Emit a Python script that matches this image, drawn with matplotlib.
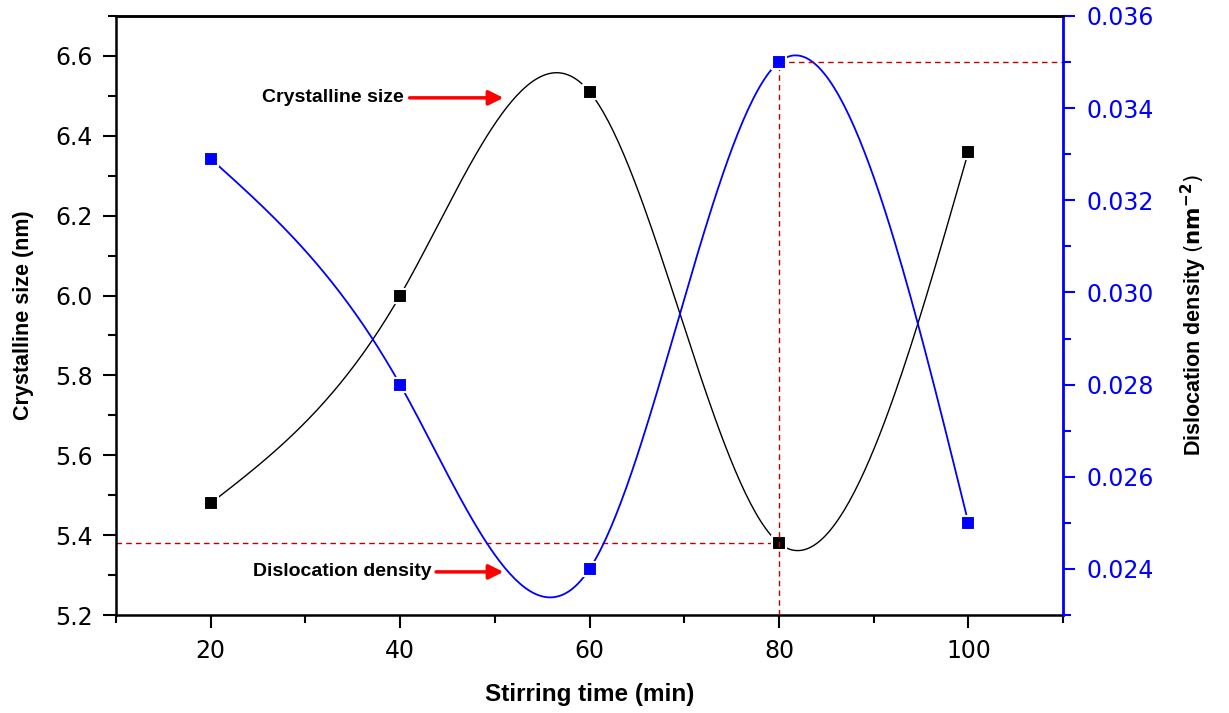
import numpy as np
import matplotlib
matplotlib.use("Agg")
from matplotlib import pyplot as plt
from matplotlib.ticker import MultipleLocator, FormatStrFormatter

# data
stirring_time = [20, 40, 60, 80, 100]
crystalline_size = [5.48, 6.00, 6.51, 5.38, 6.36]
dislocation_density = [0.0329, 0.0280, 0.0240, 0.0350, 0.0250]


def natural_spline(x, y, n=300):
    # natural cubic spline through the points (like Origin's spline connector)
    x = np.asarray(x, float)
    y = np.asarray(y, float)
    k = len(x)
    h = np.diff(x)
    A = np.zeros((k, k))
    b = np.zeros(k)
    A[0, 0] = A[-1, -1] = 1
    for i in range(1, k - 1):
        A[i, i - 1] = h[i - 1]
        A[i, i] = 2 * (h[i - 1] + h[i])
        A[i, i + 1] = h[i]
        b[i] = 6 * ((y[i + 1] - y[i]) / h[i] - (y[i] - y[i - 1]) / h[i - 1])
    M = np.linalg.solve(A, b)
    xs = np.linspace(x[0], x[-1], n)
    idx = np.clip(np.searchsorted(x, xs) - 1, 0, k - 2)
    x0, x1 = x[idx], x[idx + 1]
    hh = x1 - x0
    ys = (M[idx] * (x1 - xs) ** 3 / (6 * hh) + M[idx + 1] * (xs - x0) ** 3 / (6 * hh)
          + (y[idx] / hh - M[idx] * hh / 6) * (x1 - xs)
          + (y[idx + 1] / hh - M[idx + 1] * hh / 6) * (xs - x0))
    return xs, ys


plt.rcParams['font.family'] = ['Liberation Sans', 'DejaVu Sans']
tick_font = ['DejaVu Sans']

fig = plt.figure(figsize=(12.29, 7.13), dpi=100)
ax = fig.add_axes([0.0944, 0.1374, 0.7706, 0.8402])
ax2 = ax.twinx()

# crystalline size (left axis)
xs, ys = natural_spline(stirring_time, crystalline_size)
ax.plot(xs, ys, color='black', lw=1.0, zorder=2)
ax.plot(stirring_time, crystalline_size, 's', color='black', ms=10,
        mec='white', mew=1.5, zorder=3)

# dislocation density (right axis)
xs, ys = natural_spline(stirring_time, dislocation_density)
ax2.plot(xs, ys, color='blue', lw=1.3, zorder=2)
ax2.plot(stirring_time, dislocation_density, 's', color='blue', ms=10,
         mec='white', mew=1.5, zorder=3)

# red dashed guide lines
ax.plot([10, 80], [5.38, 5.38], color='#c00000', lw=1.0, dashes=(4, 3))
ax2.plot([80, 80], [0.023, 0.035], color='#c00000', lw=1.0, dashes=(4, 3))
ax2.plot([80, 110], [0.035, 0.035], color='#c00000', lw=1.0, dashes=(4, 3))

# annotations
ax.annotate('', xy=(51.2, 6.495), xytext=(40.7, 6.495),
            arrowprops=dict(arrowstyle='-|>', color='red', lw=2.5, mutation_scale=22))
ax.text(40.4, 6.495, 'Crystalline size', ha='right', va='center',
        fontsize=14, fontweight='bold')
ax.annotate('', xy=(51.2, 5.308), xytext=(43.5, 5.308),
            arrowprops=dict(arrowstyle='-|>', color='red', lw=2.5, mutation_scale=22))
ax.text(43.3, 5.308, 'Dislocation density', ha='right', va='center',
        fontsize=14, fontweight='bold')

# axes limits and ticks
ax.set_xlim(10, 110)
ax.set_ylim(5.2, 6.7)
ax2.set_ylim(0.023, 0.036)

ax.xaxis.set_major_locator(MultipleLocator(20))
ax.xaxis.set_minor_locator(MultipleLocator(10))
ax.yaxis.set_major_locator(MultipleLocator(0.2))
ax.yaxis.set_minor_locator(MultipleLocator(0.1))
ax.yaxis.set_major_formatter(FormatStrFormatter('%.1f'))
ax2.yaxis.set_major_locator(MultipleLocator(0.002))
ax2.yaxis.set_minor_locator(MultipleLocator(0.001))
ax2.yaxis.set_major_formatter(FormatStrFormatter('%.3f'))

ax.tick_params(axis='both', which='both', direction='out', width=1.5, top=False)
ax.tick_params(axis='both', which='major', length=9.5, labelsize=17, pad=7.5)
ax.tick_params(axis='both', which='minor', length=5.5)
ax.tick_params(axis='x', pad=8)

ax2.tick_params(axis='y', which='both', direction='out', width=1.5, colors='blue')
ax2.tick_params(axis='y', which='major', length=8.5, labelsize=17, pad=8)
ax2.tick_params(axis='y', which='minor', length=5.5)

for lbl in ax.get_xticklabels() + ax.get_yticklabels() + ax2.get_yticklabels():
    lbl.set_family(tick_font)

for side in ['left', 'bottom', 'top']:
    ax.spines[side].set_linewidth(1.8)
ax2.spines['right'].set_color('blue')
ax2.spines['right'].set_linewidth(2.0)
ax2.spines['left'].set_visible(False)
ax2.spines['top'].set_linewidth(1.8)
ax2.spines['bottom'].set_visible(False)

ax.set_xlabel('Stirring time (min)', fontsize=17.5, fontweight='bold', labelpad=14)
ax.set_ylabel('Crystalline size (nm)', fontsize=15.5, fontweight='bold', labelpad=15)
ax2.set_ylabel(r'Dislocation density $\left(\mathbf{nm^{-2}}\right)$',
               fontsize=15.5, fontweight='bold', labelpad=18)

fig.savefig('out.png', dpi=100)
